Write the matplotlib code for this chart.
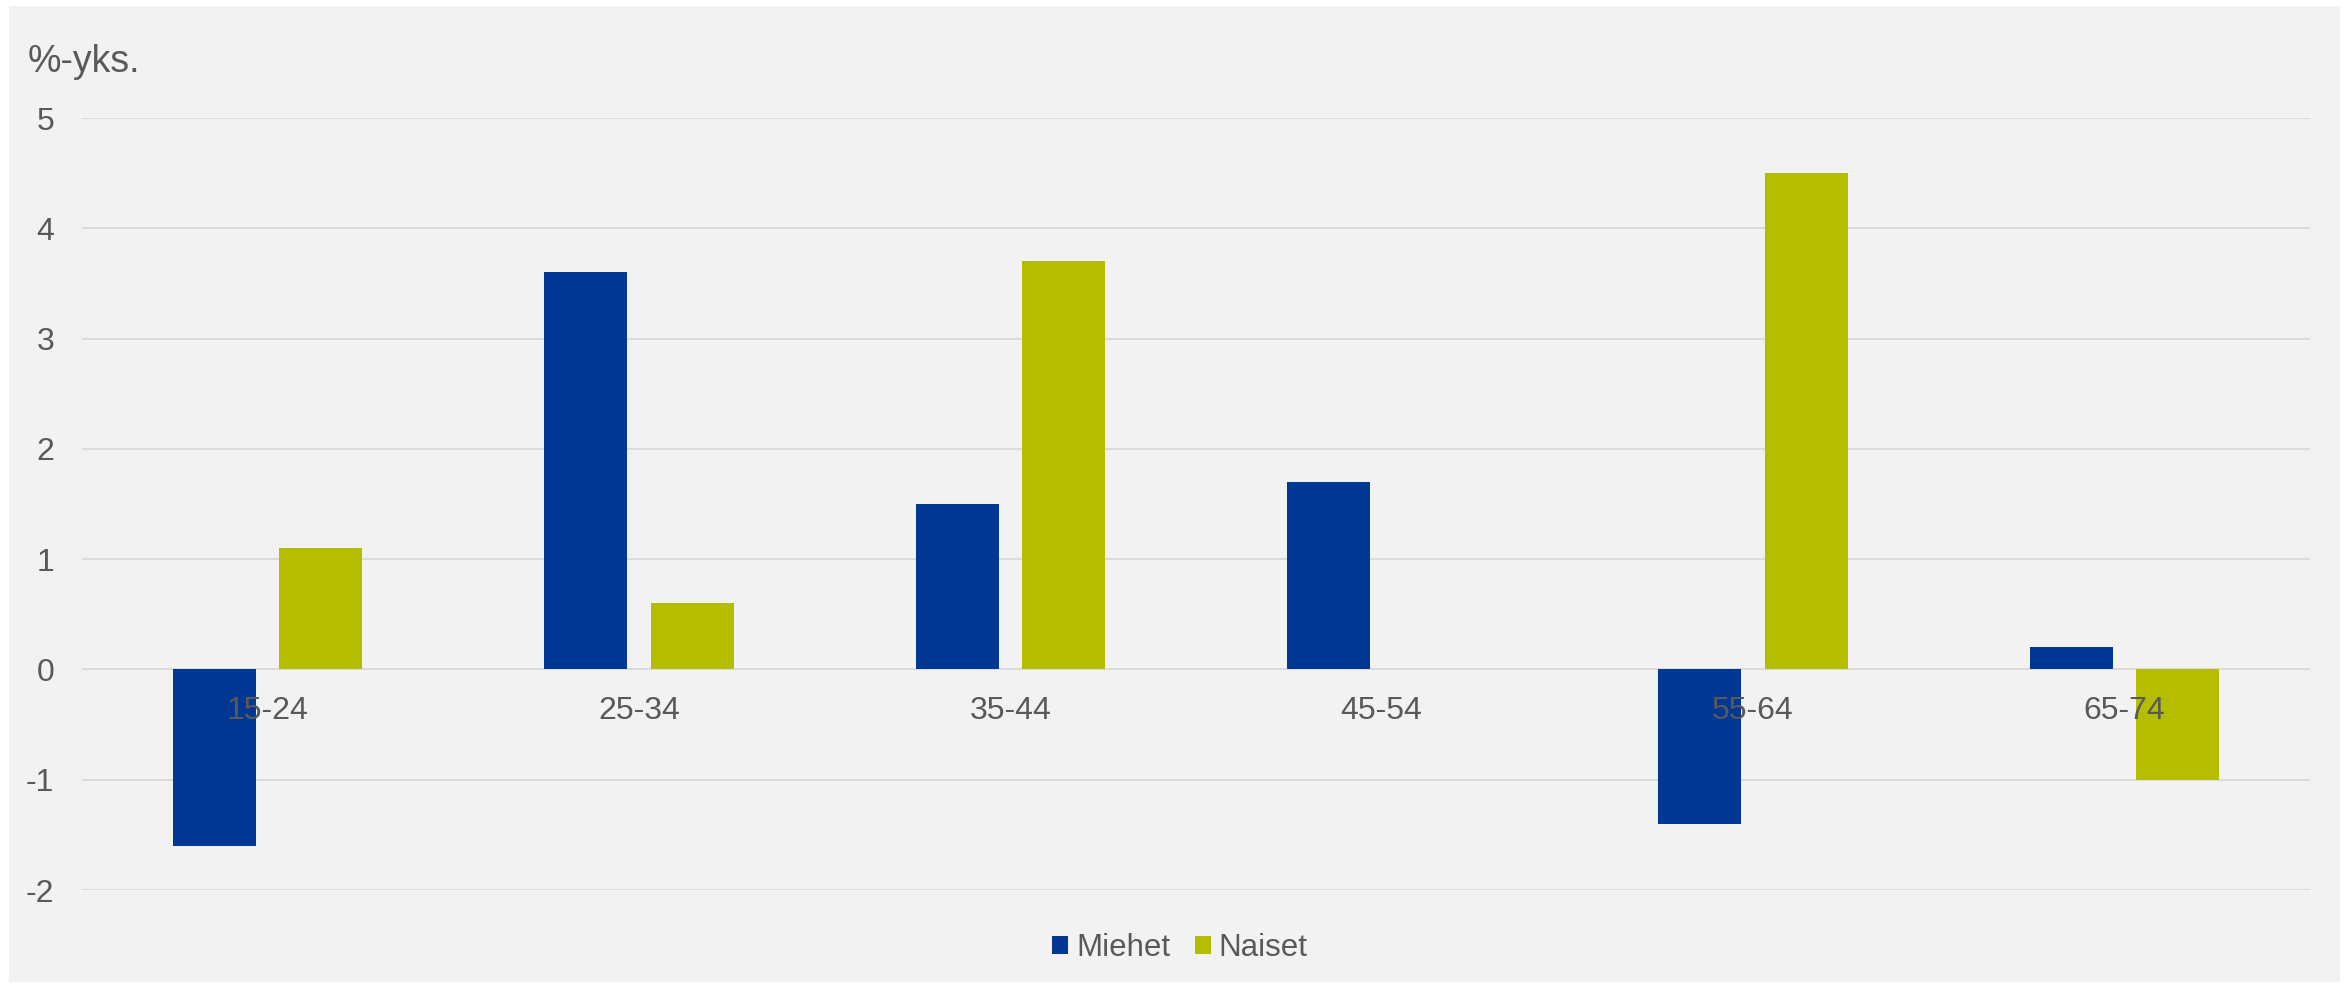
import matplotlib
matplotlib.use("Agg")
import matplotlib.pyplot as plt
from matplotlib.patches import Rectangle
import numpy as np

plt.rcParams['font.family'] = ['Liberation Sans', 'DejaVu Sans']

categories = ["15-24", "25-34", "35-44", "45-54", "55-64", "65-74"]
miehet = [-1.6, 3.6, 1.5, 1.7, -1.4, 0.2]
naiset = [1.1, 0.6, 3.7, 0.0, 4.5, -1.0]
series_names = ["Miehet", "Naiset"]
y_ticks = [-2, -1, 0, 1, 2, 3, 4, 5]
unit_label = "%-yks."

c_blue = "#003893"
c_olive = "#B5BD00"
txt = "#595959"
grid = "#D9D9D9"
bg = "#F2F2F2"

W, H = 2348, 986
fig = plt.figure(figsize=(W / 100, H / 100), dpi=100, facecolor="white")
fig.patches.append(Rectangle((9 / W, 1 - 982 / H), (2340 - 9) / W, (982 - 6) / H,
                             transform=fig.transFigure, facecolor=bg, edgecolor="none", zorder=-10))

left, right = 82 / W, 2310 / W
bottom, top = 1 - 890 / H, 1 - 118 / H
ax = fig.add_axes([left, bottom, right - left, top - bottom])
ax.set_facecolor("none")
ax.set_axisbelow(False)

x = np.arange(len(categories))
bw = 0.224
off = 0.143
ax.bar(x - off, miehet, bw, color=c_blue, label=series_names[0], zorder=2)
ax.bar(x + off, naiset, bw, color=c_olive, label=series_names[1], zorder=2)

ax.set_xlim(-0.5, len(categories) - 0.5)
ax.set_ylim(-2, 5)
ax.set_yticks(y_ticks)
ax.set_yticklabels([str(v) for v in y_ticks])
for yv in y_ticks:
    ax.axhline(yv, color=grid, lw=1.3, zorder=1)

for s in ax.spines.values():
    s.set_visible(False)
ax.spines['bottom'].set_position(('data', 0))

ax.set_xticks(x)
ax.set_xticklabels(categories)
ax.tick_params(axis='x', length=0, pad=19, labelsize=23, labelcolor=txt)
ax.tick_params(axis='y', length=0, pad=20, labelsize=23, labelcolor=txt)

fig.text(28 / W, 1 - 72 / H, unit_label, fontsize=27, color=txt, ha='left', va='baseline')

leg = fig.legend(loc='center', bbox_to_anchor=(1180 / W, 1 - 948 / H), ncol=2, frameon=False,
                 fontsize=22.5, handlelength=0.5, handleheight=0.5, handletextpad=0.25,
                 columnspacing=0.8, labelcolor=txt)

fig.savefig("out.png", dpi=100, facecolor="white")
